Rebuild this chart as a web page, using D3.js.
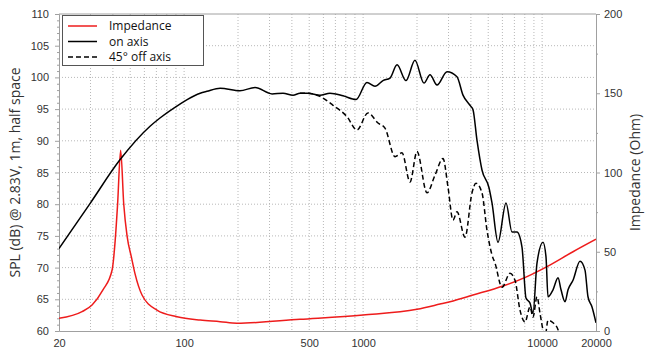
<!DOCTYPE html>
<html>
<head>
<meta charset="utf-8">
<script src="https://cdn.jsdelivr.net/npm/d3@7"></script>
<style>
  body { margin: 0; background: #fff; }
  svg { font-family: "Open Sans", sans-serif; }
  .grid line { stroke: #b8b8b8; stroke-dasharray: 1,2; }
  .axis path, .axis line { stroke: #a0a0a0; }
  .axis text { fill: #333; font-size: 11px; }
  .title { font-size: 14px; fill: #333; }
  .legend text { font-size: 12px; fill: #111; }
</style>
</head>
<body>
<div id="chart"></div>
<script>
var width = 650, height = 352,
    margin = {top: 14, right: 54, bottom: 21, left: 59};

// tick labels
var freqTicks = [20, 100, 500, 1000, 10000, 20000],
    splTicks = [60, 65, 70, 75, 80, 85, 90, 95, 100, 105, 110],
    ohmTicks = [0, 50, 100, 150, 200];

// on axis SPL (Hz, dB)
var onFreq = [20, 29.8, 43.8, 64.5, 73.3, 94.8, 104, 123, 134, 159, 205, 249, 310, 357, 406, 444, 492, 574, 653, 772, 913,
              1051, 1165, 1291, 1414, 1547, 1736, 1948, 2188, 2364, 2587, 2943, 3346, 3614, 3954, 4110, 4326, 4614, 5050, 5248,
              5670, 6286, 6790, 7242, 7722, 8126, 8558, 8892, 9362, 10114, 10512, 10786, 11506, 12272, 12754, 13428, 13958,
              14878, 16280, 17360, 18040, 19000, 20000];
var onSpl = [73.0, 80.1, 87.0, 92.3, 93.6, 95.8, 96.5, 97.5, 97.8, 98.3, 97.9, 98.4, 97.4, 97.5, 97.2, 97.5, 97.5, 97.2, 97.5, 97.1, 96.5,
             99.2, 98.6, 99.5, 99.9, 102.0, 99.5, 102.7, 99.1, 100.4, 98.8, 100.9, 100.1, 97.2, 95.6, 94.9, 90.1, 85.4, 82.6, 80.2,
             74.0, 80.2, 75.6, 75.6, 73.2, 65.2, 64.4, 62.8, 70.7, 74.0, 71.7, 65.4, 66.5, 68.4, 66.5, 64.6, 66.5,
             68.0, 71.0, 69.6, 65.4, 63.8, 61.3];

// 45 deg off axis SPL (Hz, dB)
var offFreq = [444, 492, 574, 679, 813, 924, 1065, 1211, 1325, 1507, 1649, 1828, 2000, 2274, 2522, 2795, 2980, 3178, 3346,
               3709, 4058, 4272, 4614, 4920, 5248, 5457, 5970, 6616, 7056, 7524, 8024, 8558, 8892, 9362, 9732, 10114,
               10400, 10786, 11506, 12272, 12900];
var offSpl = [97.5, 97.5, 97.0, 95.6, 93.8, 91.7, 94.4, 92.8, 92.0, 87.5, 88.1, 83.5, 88.3, 81.8, 84.6, 87.2, 82.7, 77.5, 78.8,
              74.8, 81.8, 83.3, 81.8, 75.9, 72.0, 70.7, 66.9, 69.1, 68.0, 63.3, 61.4, 63.8, 62.2, 65.4, 62.8, 60.2,
              59.2, 61.7, 61.3, 60.2, 57.0];

// impedance (Hz, Ohm)
var impFreq = [20, 26.9, 30.6, 35.2, 39.6, 41.2, 42.5, 44.2, 46.0, 48.0, 50.9, 53.2, 58.2, 70.5, 91.3, 123, 159, 197, 444,
               1000, 2000, 2689, 3058, 4110, 6046, 8235, 10648, 14878, 20000];
var impOhm = [8.0, 12.2, 16.4, 25.9, 38.5, 57, 80, 114, 80, 60, 46, 36, 22.7, 13.2, 9.0, 6.9, 5.9, 4.9, 7.4,
              10.1, 13.7, 17.0, 18.5, 22.7, 28.4, 34.3, 40.6, 50.0, 57.9];

var x = d3.scaleLog().domain([20, 20000]).range([margin.left, width - margin.right]),
    y = d3.scaleLinear().domain([60, 110]).range([height - margin.bottom, margin.top]),
    yR = d3.scaleLinear().domain([0, 200]).range([height - margin.bottom, margin.top]);

var svg = d3.select("#chart").append("svg")
    .attr("width", width)
    .attr("height", height);

svg.append("clipPath").attr("id", "plot")
  .append("rect")
    .attr("x", margin.left)
    .attr("y", margin.top)
    .attr("width", width - margin.left - margin.right)
    .attr("height", height - margin.top - margin.bottom);

// grid: every decade step, every 5 dB
var minor = [];
[10, 100, 1000, 10000].forEach(function(dec) {
  for (var k = 1; k < 10; k++) {
    var f = dec * k;
    if (f > 20 && f < 20000) minor.push(f);
  }
});

var grid = svg.append("g").attr("class", "grid");
grid.selectAll(".vg")
    .data(minor)
  .enter().append("line")
    .attr("x1", function(d) { return x(d); })
    .attr("x2", function(d) { return x(d); })
    .attr("y1", margin.top)
    .attr("y2", height - margin.bottom);
grid.selectAll(".hg")
    .data(splTicks.slice(1, -1))
  .enter().append("line")
    .attr("x1", margin.left)
    .attr("x2", width - margin.right)
    .attr("y1", function(d) { return y(d); })
    .attr("y2", function(d) { return y(d); });

// frame top
svg.append("line")
    .attr("x1", margin.left).attr("x2", width - margin.right)
    .attr("y1", margin.top).attr("y2", margin.top)
    .attr("stroke", "#a0a0a0");

// axes
svg.append("g")
    .attr("class", "axis")
    .attr("transform", "translate(0," + (height - margin.bottom) + ")")
    .call(d3.axisBottom(x).tickValues(freqTicks).tickFormat(d3.format("d")).tickSize(0).tickPadding(8));

svg.append("g")
    .attr("class", "axis")
    .attr("transform", "translate(" + margin.left + ",0)")
    .call(d3.axisLeft(y).tickValues(d3.range(60, 111, 1)).tickSize(2).tickPadding(8)
      .tickFormat(function(d) { return d % 5 == 0 ? d : ""; }))
    .selectAll(".tick line")
    .attr("x2", function(d) { return d % 5 == 0 ? -4 : -2; });

svg.append("g")
    .attr("class", "axis")
    .attr("transform", "translate(" + (width - margin.right) + ",0)")
    .call(d3.axisRight(yR).tickValues(d3.range(0, 201, 25)).tickSize(2).tickPadding(6)
      .tickFormat(function(d) { return d % 50 == 0 ? d : ""; }))
    .selectAll(".tick line")
    .attr("x2", function(d) { return d % 50 == 0 ? 4 : 2; });

svg.selectAll(".axis .domain").attr("stroke", "#a0a0a0");

// titles
svg.append("text")
    .attr("class", "title")
    .attr("transform", "translate(20," + ((margin.top + height - margin.bottom) / 2) + ")rotate(-90)")
    .attr("text-anchor", "middle")
    .text("SPL (dB) @ 2.83V, 1m, half space");
svg.append("text")
    .attr("class", "title")
    .attr("transform", "translate(640," + ((margin.top + height - margin.bottom) / 2) + ")rotate(-90)")
    .attr("text-anchor", "middle")
    .text("Impedance (Ohm)");

// curves
var plot = svg.append("g").attr("clip-path", "url(#plot)");

function draw(fs, vs, scale, color, dash) {
  var line = d3.line()
      .x(function(d) { return x(d[0]); })
      .y(function(d) { return scale(d[1]); })
      .curve(d3.curveMonotoneX);
  plot.append("path")
      .datum(d3.zip(fs, vs))
      .attr("d", line)
      .attr("fill", "none")
      .attr("stroke", color)
      .attr("stroke-width", 1.5)
      .attr("stroke-dasharray", dash);
}

draw(impFreq, impOhm, yR, "#ee1c1c", null);
draw(offFreq, offSpl, y, "#000", "5,3");
draw(onFreq, onSpl, y, "#000", null);

// legend
var legendItems = [
  {name: "Impedance", color: "#ee1c1c", dash: null},
  {name: "on axis", color: "#000", dash: null},
  {name: "45\u00b0 off axis", color: "#000", dash: "5,3"}
];

var legend = svg.append("g").attr("class", "legend");
legend.append("rect")
    .attr("x", 62.5).attr("y", 15.5)
    .attr("width", 141).attr("height", 50)
    .attr("fill", "#fff")
    .attr("stroke", "#555");

var item = legend.selectAll(".item")
    .data(legendItems)
  .enter().append("g")
    .attr("transform", function(d, i) { return "translate(0," + (26 + i * 15.5) + ")"; });
item.append("line")
    .attr("x1", 68).attr("x2", 97)
    .attr("stroke", function(d) { return d.color; })
    .attr("stroke-width", 1.5)
    .attr("stroke-dasharray", function(d) { return d.dash; });
item.append("text")
    .attr("x", 109)
    .attr("dy", "0.35em")
    .text(function(d) { return d.name; });
</script>
</body>
</html>
